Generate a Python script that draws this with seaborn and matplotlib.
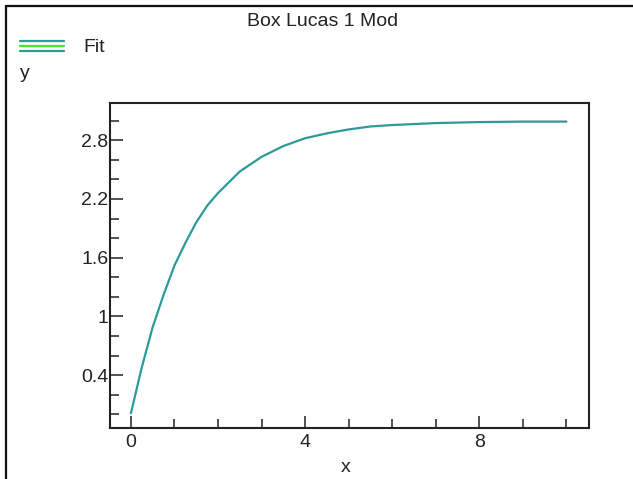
import matplotlib
matplotlib.use("Agg")
import matplotlib.pyplot as plt
from matplotlib.lines import Line2D
from matplotlib.ticker import MultipleLocator, FixedLocator
from matplotlib import font_manager
import numpy as np
import pandas as pd
import seaborn as sns

# Box Lucas 1 Mod fit curve
x_vals = [0, 0.25, 0.5, 0.75, 1, 1.25, 1.5, 1.75, 2, 2.5, 3, 3.5, 4, 4.5, 5,
          5.5, 6, 7, 8, 9, 10]
y_vals = [0.01, 0.48, 0.89, 1.22, 1.52, 1.75, 1.96, 2.13, 2.26, 2.48, 2.63,
          2.74, 2.82, 2.87, 2.91, 2.94, 2.955, 2.975, 2.985, 2.99, 2.99]
x_ticks = [0, 4, 8]
y_ticks = [0.4, 1, 1.6, 2.2, 2.8]
y_tick_labels = ["0.4", "1", "1.6", "2.2", "2.8"]

title = "Box Lucas 1 Mod"
series_name = "Fit"

sns.set_theme(style="white")
names = {f.name for f in font_manager.fontManager.ttflist}
family = "Liberation Sans Narrow" if "Liberation Sans Narrow" in names else "Liberation Sans"
plt.rcParams["font.family"] = [family, "DejaVu Sans"]
FS = 14

W, H = 633, 479
fig = plt.figure(figsize=(W / 100, H / 100), dpi=100)
fig.patch.set_facecolor("white")

ax = fig.add_axes([110 / W, 1 - 428 / H, (589 - 110) / W, (428 - 103) / H])

df = pd.DataFrame({"x": x_vals, "y": y_vals})
teal = "#2b9b98"
sns.lineplot(data=df, x="x", y="y", ax=ax, color=teal, linewidth=1.6,
             legend=False)

ax.set_xlim(-0.48, 10.52)
ax.set_ylim(-0.14, 3.18)
ax.set_xlabel("")
ax.set_ylabel("")

ax.xaxis.set_major_locator(FixedLocator(x_ticks))
ax.xaxis.set_minor_locator(MultipleLocator(1))
ax.yaxis.set_major_locator(FixedLocator(y_ticks))
ax.set_yticklabels(y_tick_labels)
ax.yaxis.set_minor_locator(FixedLocator(np.arange(0.0, 3.05, 0.2)))

for side in ["left", "right", "top", "bottom"]:
    ax.spines[side].set_visible(True)
    ax.spines[side].set_color("#222222")
    ax.spines[side].set_linewidth(1.5)

ax.tick_params(axis="both", which="major", direction="in", length=9,
               width=1.1, color="#222222", labelsize=FS,
               labelcolor="#222222")
ax.tick_params(axis="both", which="minor", direction="in", length=6.5,
               width=1.1, color="#222222")
ax.tick_params(axis="x", which="major", pad=4)
ax.tick_params(axis="y", which="major", pad=1)
ax.tick_params(axis="x", which="both", bottom=True, top=False)
ax.tick_params(axis="y", which="both", left=True, right=False)

# Title and axis names
fig.text(323 / W, 1 - 22 / H, title, ha="center", va="center",
         fontsize=FS, color="#222222")
fig.text(20 / W, 1 - 74 / H, "y", ha="left", va="center",
         fontsize=FS, color="#222222")
fig.text(346 / W, 1 - 467 / H, "x", ha="center", va="center",
         fontsize=FS, color="#222222")

# Legend entry: double teal line with a green centre
for yy, col in [(41, teal), (46, "#33ee33"), (51, teal)]:
    fig.add_artist(Line2D([20 / W, 64 / W], [1 - yy / H, 1 - yy / H],
                          color=col, linewidth=1.6,
                          transform=fig.transFigure))
fig.text(83 / W, 1 - 47 / H, series_name, ha="left", va="center",
         fontsize=FS, color="#222222")

# Window frame along the top and left edges
fig.add_artist(Line2D([6 / W, 1], [1 - 6 / H, 1 - 6 / H], color="#111111",
                      linewidth=1.6, transform=fig.transFigure))
fig.add_artist(Line2D([6 / W, 6 / W], [0, 1 - 6 / H], color="#111111",
                      linewidth=1.6, transform=fig.transFigure))

fig.savefig("out.png", dpi=100, facecolor="white")
